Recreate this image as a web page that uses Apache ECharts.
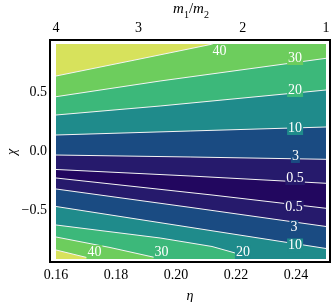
<!DOCTYPE html>
<html><head><meta charset="utf-8">
<script src="https://cdn.jsdelivr.net/npm/echarts@6/dist/echarts.min.js"></script>
<style>html,body{margin:0;padding:0;background:#fff}#c{width:332px;height:302px}</style>
</head><body><div id="c"></div>
<script>
// ---- data ----
const etaRange = [0.16, 0.25];
const chiRange = [-0.915, 0.915];
const etaTicks = [0.16, 0.18, 0.20, 0.22, 0.24];
const etaTickLabels = ['0.16', '0.18', '0.20', '0.22', '0.24'];
const massRatios = [4, 3, 2, 1];
const massRatioLabels = ['4', '3', '2', '1'];
const chiTicks = [0.5, 0, -0.5];
const chiTickLabels = ['0.5', '0.0', '\u22120.5'];
const levels = ['0.5', '3', '10', '20', '30', '40'];

// contour lines, [eta, chi]; upper branch (chi>0 side) and lower branch
const up05 = [[0.16, -0.153], [0.2047, -0.2085], [0.25, -0.2706]];
const up3  = [[0.16, -0.030], [0.2047, -0.0468], [0.25, -0.0664]];
const up10 = [[0.16, 0.1404], [0.2047, 0.1745], [0.25, 0.2085]];
const up20 = [[0.16, 0.3106], [0.1947, 0.3872], [0.25, 0.5234]];
const up30 = [[0.16, 0.4664], [0.1947, 0.600], [0.25, 0.7932]];
const up40 = [[0.16, 0.6426], [0.1863, 0.7787], [0.2123, 0.915]];

const lo05 = [[0.16, -0.2255], [0.212, -0.3702], [0.25, -0.4834]];
const lo3  = [[0.16, -0.3191], [0.205, -0.4766], [0.25, -0.6383]];
const lo10 = [[0.16, -0.4681], [0.205, -0.6468], [0.25, -0.8255]];
const lo20 = [[0.16, -0.6255], [0.1947, -0.7362], [0.212, -0.8085], [0.2197, -0.8638], [0.224, -0.915]];
const lo30 = [[0.16, -0.7277], [0.178, -0.817], [0.1953, -0.915]];
const lo40 = [[0.16, -0.8383], [0.1723, -0.915]];

// contour label anchors [eta, chi, text]
const contourLabels = [
  [0.2145, 0.8494, '40'], [0.2397, 0.7957, '30'], [0.2397, 0.5234, '20'],
  [0.2397, 0.200, '10'], [0.2398, -0.038, '3'], [0.2397, -0.2255, '0.5'],
  [0.2393, -0.4723, '0.5'], [0.2393, -0.6426, '3'], [0.2397, -0.800, '10'],
  [0.2223, -0.8553, '20'], [0.1952, -0.8553, '30'], [0.1728, -0.8553, '40']
];
// ---- style ----
const bandColors = ['#22075f', '#261a6c', '#1a4b82', '#1f8b8b', '#3cb87a', '#6dcd5d', '#d7e25c'];
const labelBand = [5, 5, 4, 3, 2, 1, 1, 2, 3, 3, 4, 5];
const FONT = '"Liberation Serif", "DejaVu Serif", serif';

const upperLines = [up05, up3, up10, up20, up30, up40];
const lowerLines = [lo05, lo3, lo10, lo20, lo30, lo40];
const [eMin, eMax] = etaRange, [cMin, cMax] = chiRange;
const massEta = massRatios.map(q => q / ((1 + q) * (1 + q)));

const polys = [{pts: [[eMin, cMin], [eMax, cMin], [eMax, cMax], [eMin, cMax]], c: 0}];
upperLines.forEach((l, i) => {
  const f = l[0], la = l[l.length - 1];
  polys.push({pts: l.concat([[la[0], cMax], [f[0], cMax]]), c: i + 1});
});
lowerLines.forEach((l, i) => {
  const f = l[0], la = l[l.length - 1];
  polys.push({pts: l.concat([[la[0], cMin], [f[0], cMin]]), c: i + 1});
});

// axis extents (data region plus white padding inside the frame)
const pxPerEta = 270 / (eMax - eMin), pxPerChi = 215 / (cMax - cMin);
const xMin = eMin - 6 / pxPerEta, xMax = xMin + 280 / pxPerEta;
const yMax = cMax + 4 / pxPerChi, yMin = yMax - 222 / pxPerChi;

function pick(vals, labels) {
  return v => { for (let i = 0; i < vals.length; i++) if (Math.abs(vals[i] - v) < 1e-6) return labels[i]; return ''; };
}
const axisCommon = {
  type: 'value', axisLine: {show: false}, axisTick: {show: false}, splitLine: {show: false},
};
const lblStyle = {color: '#000', fontFamily: FONT, fontSize: 14};

const series = [{
  type: 'custom', silent: true, animation: false, z: 1,
  data: polys.map(p => p.pts[0]),
  renderItem: (params, api) => {
    const p = polys[params.dataIndex];
    return {type: 'polygon', shape: {points: p.pts.map(d => api.coord(d))}, style: {fill: bandColors[p.c]}};
  }
}];
upperLines.concat(lowerLines).forEach(l => series.push({
  type: 'line', data: l, showSymbol: false, silent: true, animation: false, z: 3,
  lineStyle: {color: '#f4f4f4', width: 1}
}));
series.push({
  type: 'custom', silent: true, animation: false, z: 5,
  data: contourLabels.map(d => [d[0], d[1]]),
  renderItem: (params, api) => {
    const d = contourLabels[params.dataIndex];
    const pt = api.coord([d[0], d[1]]);
    return {type: 'text', x: pt[0], y: pt[1], style: {
      text: d[2], fill: '#fff', font: '14px ' + FONT, align: 'center', verticalAlign: 'middle',
      backgroundColor: bandColors[labelBand[params.dataIndex]], padding: [0, 1]
    }};
  }
});

const chart = echarts.init(document.getElementById('c'), null, {renderer: 'canvas'});
chart.setOption({
  animation: false,
  grid: {left: 50, top: 40, width: 280, height: 222, show: true, borderColor: '#000', borderWidth: 2,
         backgroundColor: 'transparent', containLabel: false, outerBoundsMode: 'none'},
  xAxis: [
    Object.assign({}, axisCommon, {position: 'bottom', min: xMin, max: xMax,
      axisLabel: Object.assign({}, lblStyle, {customValues: etaTicks, margin: 6, formatter: pick(etaTicks, etaTickLabels)})}),
    Object.assign({}, axisCommon, {position: 'top', min: xMin, max: xMax,
      axisLabel: Object.assign({}, lblStyle, {customValues: massEta, margin: 5, formatter: pick(massEta, massRatioLabels)})})
  ],
  yAxis: Object.assign({}, axisCommon, {min: yMin, max: yMax,
    axisLabel: Object.assign({}, lblStyle, {customValues: chiTicks, margin: 3, formatter: pick(chiTicks, chiTickLabels)})}),
  graphic: [
    {type: 'text', x: 190, y: 296, style: {text: '\u03b7', font: 'italic 14px ' + FONT, fill: '#000', align: 'center', verticalAlign: 'middle'}},
    {type: 'text', x: 12, y: 152, rotation: Math.PI / 2, style: {text: '\u03c7', font: 'italic 14px ' + FONT, fill: '#000', align: 'center', verticalAlign: 'middle'}},
    {type: 'text', x: 191, y: 11, style: {
      text: '{i|m}{s|1}{n|/}{i|m}{s|2}', align: 'center', verticalAlign: 'middle', fill: '#000',
      rich: {
        i: {fontFamily: FONT, fontStyle: 'italic', fontSize: 15, lineHeight: 18, verticalAlign: 'top', fill: '#000'},
        n: {fontFamily: FONT, fontSize: 15, lineHeight: 18, verticalAlign: 'top', fill: '#000'},
        s: {fontFamily: FONT, fontSize: 10, lineHeight: 18, verticalAlign: 'bottom', fill: '#000'}
      }}}
  ],
  series: series
});
</script></body></html>
